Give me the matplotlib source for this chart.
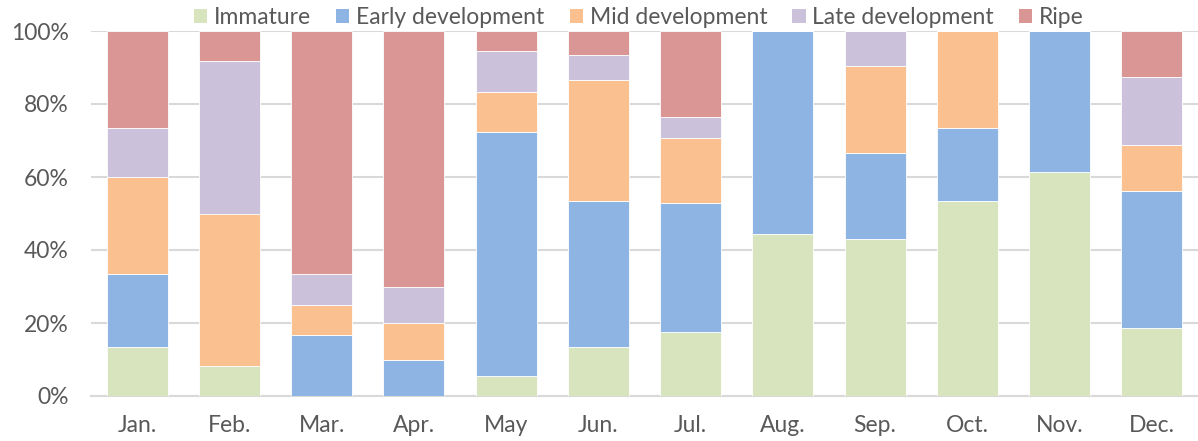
import matplotlib
matplotlib.use("Agg")
import matplotlib.pyplot as plt
from matplotlib.patches import Patch
import numpy as np

months = ["Jan.", "Feb.", "Mar.", "Apr.", "May", "Jun.", "Jul.", "Aug.", "Sep.", "Oct.", "Nov.", "Dec."]
series_names = ["Immature", "Early development", "Mid development", "Late development", "Ripe"]
immature = [13.3, 8.3, 0, 0, 5.6, 13.3, 17.6, 44.4, 42.9, 53.3, 61.5, 18.75]
early = [20.0, 0, 16.7, 10.0, 66.7, 40.0, 35.3, 55.6, 23.8, 20.0, 38.5, 37.5]
mid = [26.7, 41.7, 8.3, 10.0, 11.1, 33.3, 17.6, 0, 23.8, 26.7, 0, 12.5]
late = [13.3, 41.7, 8.3, 10.0, 11.1, 6.7, 5.9, 0, 9.5, 0, 0, 18.75]
ripe = [26.7, 8.3, 66.7, 70.0, 5.6, 6.7, 23.5, 0, 0, 0, 0, 12.5]
colors = ["#D7E4BD", "#8EB4E3", "#FAC090", "#CCC1DA", "#D99694"]
yticks = [0, 20, 40, 60, 80, 100]

plt.rcParams['font.family'] = ['Lato', 'DejaVu Sans']
fig = plt.figure(figsize=(11.98, 4.41), dpi=100)
ax = fig.add_axes([91/1198, 45/441, 1107/1198, 365/441])

data = np.array([immature, early, mid, late, ripe], dtype=float)
totals = data.sum(axis=0)
pct = data / totals * 100
x = np.arange(len(months))
bottom = np.zeros(len(months))
for vals, c, name in zip(pct, colors, series_names):
    ax.bar(x, vals, bottom=bottom, width=0.66, color=c, edgecolor="white", linewidth=0.6, label=name, zorder=3)
    bottom += vals

ax.set_xlim(-0.5, 11.5)
ax.set_ylim(0, 100)
ax.set_yticks(yticks)
ax.set_yticklabels([f"{v}%" for v in yticks])
ax.set_xticks(x)
ax.set_xticklabels(months)
ax.grid(axis="y", color="#D9D9D9", linewidth=1.5, zorder=0)
for s in ["top", "right", "left"]:
    ax.spines[s].set_visible(False)
ax.spines["bottom"].set_color("#D9D9D9")
ax.spines["bottom"].set_linewidth(1.5)
ax.tick_params(axis="both", length=0, labelsize=16.5, colors="#595959")
ax.tick_params(axis="x", pad=14)
ax.tick_params(axis="y", pad=16)

handles = [Patch(facecolor=c, edgecolor="none") for c in colors]
fig.legend(handles, series_names, loc="center", bbox_to_anchor=(639/1198, 1 - 18/441), ncol=5,
           frameon=False, fontsize=16.5, handlelength=0.57, handleheight=0.57, handletextpad=0.3,
           columnspacing=1.1, labelcolor="#595959", borderpad=0, borderaxespad=0)

fig.savefig("out.png", dpi=100)
